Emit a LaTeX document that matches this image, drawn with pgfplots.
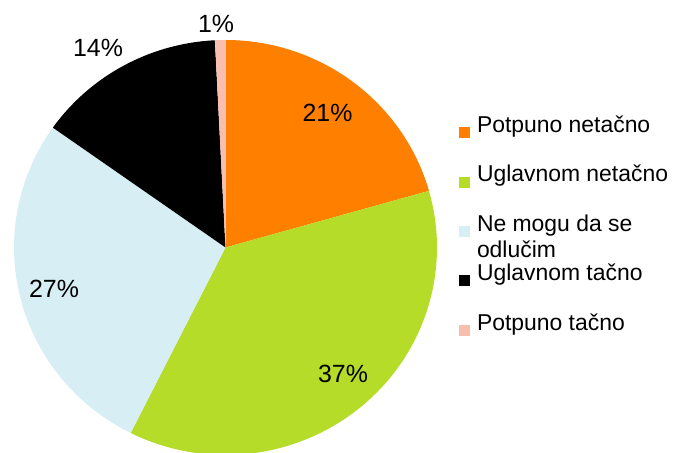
\documentclass[border=0pt]{standalone}
\usepackage{pgfplots}
\pgfplotsset{compat=1.18}
\usepackage{fontspec}
\setmainfont{Liberation Sans}
\definecolor{cOrange}{RGB}{255,128,0}
\definecolor{cGreen}{RGB}{180,220,40}
\definecolor{cBlue}{RGB}{215,238,244}
\definecolor{cBlack}{RGB}{0,0,0}
\definecolor{cPink}{RGB}{250,190,175}
% shares in percent, clockwise from the top
\def\vA{20.6}\def\vB{36.8}\def\vC{27.4}\def\vD{14.4}\def\vE{0.8}
\def\cx{225.5}\def\cy{205.5}\def\rx{211.5}\def\ry{207.5}
\begin{document}
\begin{tikzpicture}
\begin{axis}[
  scale only axis, width=688bp, height=453bp,
  xmin=0, xmax=688, ymin=0, ymax=453,
  hide axis, clip=true,
  legend image code/.code={\fill[#1] (0bp,2bp) rectangle (11bp,13bp);},
  legend cell align=left,
  legend style={draw=none, fill=none, inner sep=0pt, outer sep=0pt,
    at={(axis cs:459,337.5)}, anchor=north west,
    column sep=7bp, row sep=0pt,
    font=\fontsize{23}{26}\selectfont,
    nodes={inner sep=0pt, outer sep=0pt, text height=17bp, text depth=32.4bp}},
]
\addplot[fill=cOrange, draw=none, domain={90-3.6*\vA}:{90}, samples=100, variable=\t]
  ({\cx+\rx*cos(t)},{\cy+\ry*sin(t)}) -- (axis cs:\cx,\cy) -- cycle;
\addlegendentry{Potpuno netačno}
\addplot[fill=cGreen, draw=none, domain={90-3.6*(\vA+\vB)}:{90-3.6*\vA}, samples=120, variable=\t]
  ({\cx+\rx*cos(t)},{\cy+\ry*sin(t)}) -- (axis cs:\cx,\cy) -- cycle;
\addlegendentry{Uglavnom netačno}
\addplot[fill=cBlue, draw=none, domain={90-3.6*(\vA+\vB+\vC)}:{90-3.6*(\vA+\vB)}, samples=100, variable=\t]
  ({\cx+\rx*cos(t)},{\cy+\ry*sin(t)}) -- (axis cs:\cx,\cy) -- cycle;
\addlegendentry{\parbox[t]{160bp}{Ne mogu da se\\odlučim}}
\addplot[fill=cBlack, draw=none, domain={90-3.6*(\vA+\vB+\vC+\vD)}:{90-3.6*(\vA+\vB+\vC)}, samples=60, variable=\t]
  ({\cx+\rx*cos(t)},{\cy+\ry*sin(t)}) -- (axis cs:\cx,\cy) -- cycle;
\addlegendentry{Uglavnom tačno}
\addplot[fill=cPink, draw=none, domain={-270}:{90-3.6*(\vA+\vB+\vC+\vD)}, samples=6, variable=\t]
  ({\cx+\rx*cos(t)},{\cy+\ry*sin(t)}) -- (axis cs:\cx,\cy) -- cycle;
\addlegendentry{Potpuno tačno}
\begin{scope}[every node/.style={inner sep=0pt, anchor=center, font=\fontsize{25}{30}\selectfont}]
\node at (axis cs:327.5,340) {21\%};
\node at (axis cs:343,79) {37\%};
\node at (axis cs:54,164) {27\%};
\node at (axis cs:98,405.5) {14\%};
\node at (axis cs:216,429) {1\%};
\end{scope}
\end{axis}
\pgfresetboundingbox
\path[use as bounding box] (current axis.south west) rectangle (current axis.north east);
\end{tikzpicture}
\end{document}
